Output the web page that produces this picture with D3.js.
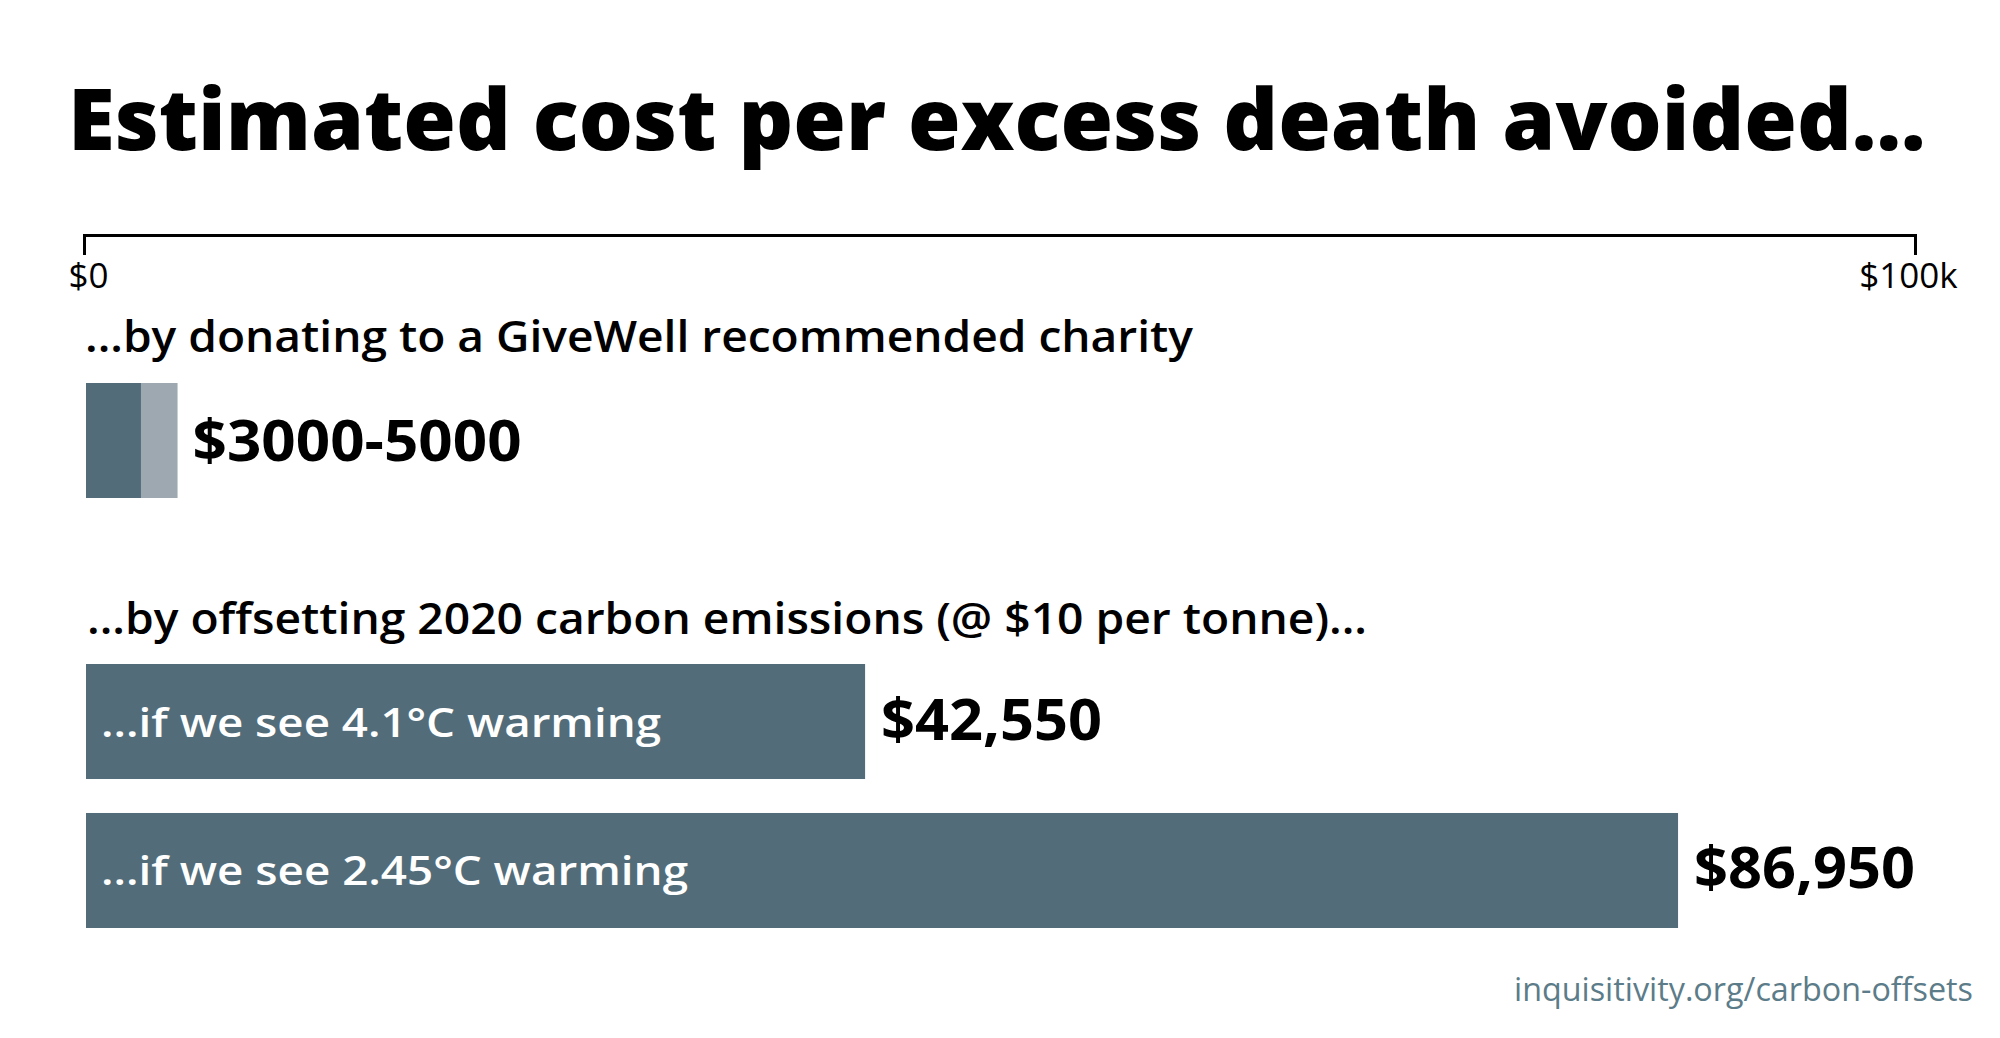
<!DOCTYPE html>
<html>
<head>
<meta charset="utf-8">
<script src="https://cdn.jsdelivr.net/npm/d3@7"></script>
<style>
  html, body { margin: 0; padding: 0; background: #ffffff; }
  svg { display: block; }
  text { font-family: "Open Sans", "Noto Sans", sans-serif; }
</style>
</head>
<body>
<svg id="chart" width="2000" height="1038"></svg>
<script>
// ---- data ----
const titleText = "Estimated cost per excess death avoided...";
const axisTicks = [0, 100000];
const axisTickLabels = ["$0", "$100k"];

const givewellHeading = "...by donating to a GiveWell recommended charity";
const givewellCategory = ["GiveWell"];
const givewellLow = [3000];
const givewellHigh = [5000];
const givewellLabel = ["$3000-5000"];

const carbonHeading = "...by offsetting 2020 carbon emissions (@ $10 per tonne)...";
const carbonCategories = ["...if we see 4.1°C warming", "...if we see 2.45°C warming"];
const carbonValues = [42550, 86950];
const carbonLabels = ["$42,550", "$86,950"];

const footerText = "inquisitivity.org/carbon-offsets";

// ---- styles ----
const darkBar = "#526d79";
const lightBar = "#9da8b0";
const footerColor = "#5c7c89";

const svg = d3.select("#chart");

// fit a text element to a target width
function fit(sel, w) {
  sel.attr("textLength", w).attr("lengthAdjust", "spacingAndGlyphs");
  return sel;
}

const x = d3.scaleLinear().domain([0, 100000]).range([86, 1917]);
const xAxisScale = x.copy().range([84, 1915]);

// Title: sized so its natural width spans the chart
const title = svg.append("text")
  .attr("x", 68).attr("y", 150)
  .attr("font-size", 90).attr("font-weight", 800)
  .attr("fill", "#000")
  .text(titleText);
const natural = title.node().getComputedTextLength();
title.attr("font-size", 90 * 1858 / natural);

// Axis
const axis = d3.axisBottom(xAxisScale)
  .tickValues(axisTicks)
  .tickFormat((d, i) => axisTickLabels[i])
  .tickSizeInner(20)
  .tickSizeOuter(20)
  .tickPadding(8);

const axG = svg.append("g")
  .attr("transform", "translate(0,235)")
  .call(axis);
axG.select(".domain").attr("stroke", "#000").attr("stroke-width", 3).attr("fill", "none");
axG.selectAll(".tick line").attr("stroke", "#000").attr("stroke-width", 3);
axG.selectAll(".tick text")
  .attr("font-size", 35)
  .attr("font-family", "'Open Sans', sans-serif")
  .attr("fill", "#000")
  .attr("dx", (d, i) => i === 0 ? 4 : -7);

// GiveWell section
fit(svg.append("text")
  .attr("x", 85).attr("y", 352)
  .attr("font-size", 44).attr("font-weight", 600)
  .attr("fill", "#000")
  .text(givewellHeading), 1108);

const yG = d3.scaleBand().domain(givewellCategory).range([383, 498]).padding(0);

svg.selectAll(".gw-high")
  .data(givewellCategory)
  .join("rect")
  .attr("x", x(0))
  .attr("y", d => yG(d))
  .attr("width", (d, i) => x(givewellHigh[i]) - x(0))
  .attr("height", yG.bandwidth())
  .attr("fill", lightBar);

svg.selectAll(".gw-low")
  .data(givewellCategory)
  .join("rect")
  .attr("x", x(0))
  .attr("y", d => yG(d))
  .attr("width", (d, i) => x(givewellLow[i]) - x(0))
  .attr("height", yG.bandwidth())
  .attr("fill", darkBar);

givewellCategory.forEach((d, i) => {
  fit(svg.append("text")
    .attr("x", x(givewellHigh[i]) + 15)
    .attr("y", yG(d) + yG.bandwidth() / 2 + 20)
    .attr("font-size", 58).attr("font-weight", 700)
    .attr("fill", "#000")
    .text(givewellLabel[i]), 329);
});

// Carbon section
fit(svg.append("text")
  .attr("x", 87).attr("y", 634)
  .attr("font-size", 44).attr("font-weight", 600)
  .attr("fill", "#000")
  .text(carbonHeading), 1280);

const yC = d3.scaleBand().domain(carbonCategories).range([664, 928]).paddingInner(0.228).paddingOuter(0);

svg.selectAll(".carbon-bar")
  .data(carbonCategories)
  .join("rect")
  .attr("x", x(0))
  .attr("y", d => yC(d))
  .attr("width", (d, i) => x(carbonValues[i]) - x(0))
  .attr("height", yC.bandwidth())
  .attr("fill", darkBar);

const inWidths = [560, 587];
carbonCategories.forEach((d, i) => {
  fit(svg.append("text")
    .attr("x", x(0) + 15)
    .attr("y", yC(d) + yC.bandwidth() / 2 + 15)
    .attr("font-size", 40).attr("font-weight", 600)
    .attr("fill", "#ffffff")
    .text(d), inWidths[i]);
  fit(svg.append("text")
    .attr("x", x(carbonValues[i]) + 16)
    .attr("y", yC(d) + yC.bandwidth() / 2 + 18)
    .attr("font-size", 58).attr("font-weight", 700)
    .attr("fill", "#000")
    .text(carbonLabels[i]), 221);
});

// Footer
fit(svg.append("text")
  .attr("x", 1973).attr("y", 1001)
  .attr("text-anchor", "end")
  .attr("font-size", 32)
  .attr("fill", footerColor)
  .text(footerText), 459);
</script>
</body>
</html>
